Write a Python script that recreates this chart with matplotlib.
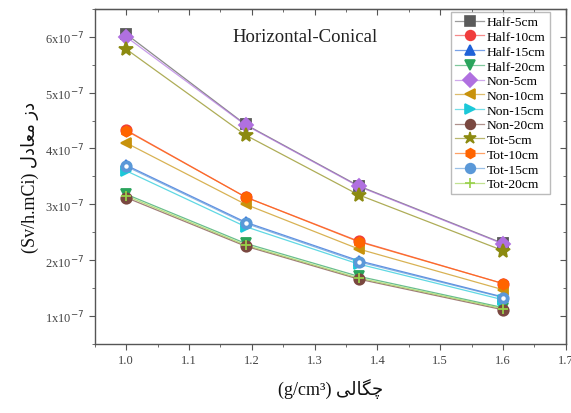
import numpy as np
import matplotlib.pyplot as plt
from matplotlib.colors import to_rgba
from matplotlib.ticker import MultipleLocator, FuncFormatter

density = [1.0, 1.19, 1.37, 1.6]

# dose rate, units of 1e-7 Sv/h.mCi
half_5 = [6.05, 4.43, 3.33, 2.30]
half_10 = [4.33, 3.13, 2.34, 1.58]
half_15 = [3.70, 2.68, 1.99, 1.34]
half_20 = [3.18, 2.30, 1.71, 1.15]
non_5 = [6.00, 4.42, 3.32, 2.29]
non_10 = [4.10, 3.00, 2.20, 1.47]
non_15 = [3.60, 2.60, 1.93, 1.29]
non_20 = [3.12, 2.25, 1.66, 1.11]
tot_5 = [5.78, 4.24, 3.17, 2.17]
tot_10 = [4.32, 3.13, 2.33, 1.58]
tot_15 = [3.68, 2.66, 1.97, 1.33]
tot_20 = [3.15, 2.27, 1.68, 1.13]

labels = ['Half-5cm', 'Half-10cm', 'Half-15cm', 'Half-20cm',
          'Non-5cm', 'Non-10cm', 'Non-15cm', 'Non-20cm',
          'Tot-5cm', 'Tot-10cm', 'Tot-15cm', 'Tot-20cm']
series = [half_5, half_10, half_15, half_20, non_5, non_10, non_15, non_20,
          tot_5, tot_10, tot_15, tot_20]
colors = ['#5a5a5a', '#f03c3c', '#1f62d8', '#2aa45c', '#b070e0', '#c8920c',
          '#1cc8d8', '#7a4840', '#8c8a10', '#ff6400', '#5a98d8', '#98d048']
markers = ['s', 'o', '^', 'v', 'D', '<', '>', 'o', '*', 'h', 'o', '+']

serif = ['Liberation Serif', 'DejaVu Sans']

fig = plt.figure(figsize=(5.71, 4.14), dpi=100)
ax = fig.add_axes([0.166, 0.167, 0.825, 0.809])

handles = []
for ys, lab, c, m in zip(series, labels, colors, markers):
    y = np.array(ys) * 1e-7
    ms = 10 if m == '*' else 7.5
    ax.plot(density, y, color=to_rgba(c, 0.7), lw=0.9, zorder=2)
    ax.plot(density, y, ls='none', marker=m, ms=ms, color=c, mec=c,
            mew=1.3, zorder=3)
    # legend entry: faded line + solid marker
    h, = ax.plot([], [], color=to_rgba(c, 0.6), lw=0.9, marker=m,
                 ms=(9 if m == '*' else 7), mec=c, mfc=c, mew=1.2, label=lab)
    handles.append(h)
# Tot-15 marker with white centre
ax.plot(density, np.array(tot_15) * 1e-7, ls='none', marker='o', ms=2.2,
        color='white', zorder=4)

leg = ax.legend(handles=handles, loc='upper right',
                bbox_to_anchor=(0.966, 0.991), borderaxespad=0,
                prop={'family': serif, 'size': 9.7}, frameon=True,
                fancybox=False, edgecolor='#aaaaaa', handlelength=2.2,
                handletextpad=0.2, labelspacing=0.17, borderpad=0.3)
leg.get_frame().set_linewidth(1.0)

ax.set_xlim(0.95, 1.7)
ax.set_ylim(0.5e-7, 6.5e-7)
ax.xaxis.set_major_locator(MultipleLocator(0.1))
ax.xaxis.set_minor_locator(MultipleLocator(0.05))
ax.yaxis.set_major_locator(MultipleLocator(1e-7))
ax.yaxis.set_minor_locator(MultipleLocator(0.5e-7))
ax.xaxis.set_major_formatter(FuncFormatter(lambda v, p: f'{v:.1f}'))
ax.yaxis.set_major_formatter(
    FuncFormatter(lambda v, p: f'{int(round(v * 1e7))}x10$^{{-7}}$'))

ax.tick_params(which='both', direction='out', colors='#555555',
               labelcolor='#444444', labelsize=9)
ax.tick_params(which='major', length=4)
ax.tick_params(which='minor', length=2.5)
for lab in ax.get_xticklabels() + ax.get_yticklabels():
    lab.set_family(serif)

# mirrored ticks on top and right
ax2 = ax.secondary_xaxis('top')
ax2.xaxis.set_major_locator(MultipleLocator(0.1))
ax2.xaxis.set_minor_locator(MultipleLocator(0.05))
ax2.tick_params(which='both', direction='in', labeltop=False, colors='#555555')
ax2.tick_params(which='major', length=4)
ax2.tick_params(which='minor', length=2.5)
ay2 = ax.secondary_yaxis('right')
ay2.yaxis.set_major_locator(MultipleLocator(1e-7))
ay2.yaxis.set_minor_locator(MultipleLocator(0.5e-7))
ay2.tick_params(which='both', direction='in', labelright=False, colors='#555555')
ay2.tick_params(which='major', length=4)
ay2.tick_params(which='minor', length=2.5)

for s in ax.spines.values():
    s.set_color('#555555')
    s.set_linewidth(1.0)

ax.text(0.293, 0.905, 'Horizontal-Conical', transform=ax.transAxes,
        fontsize=13.5, family=serif, color='#222222')

# Persian labels written in presentation forms, visual order
ylab = '(Sv/h.mCi) \ufedd\ufea9\ufe8e\ufecc\ufee3 \ufeaf\ufea9'
xlab = '(g/cm\u00b3) \ufbfd\ufedf\ufe8e\ufb95\ufb7c'
ax.set_ylabel(ylab, family=serif, fontsize=13, color='#111111', labelpad=4)
ax.set_xlabel(xlab, family=serif, fontsize=13, color='#111111', labelpad=8)

fig.savefig('out.png', dpi=100)
